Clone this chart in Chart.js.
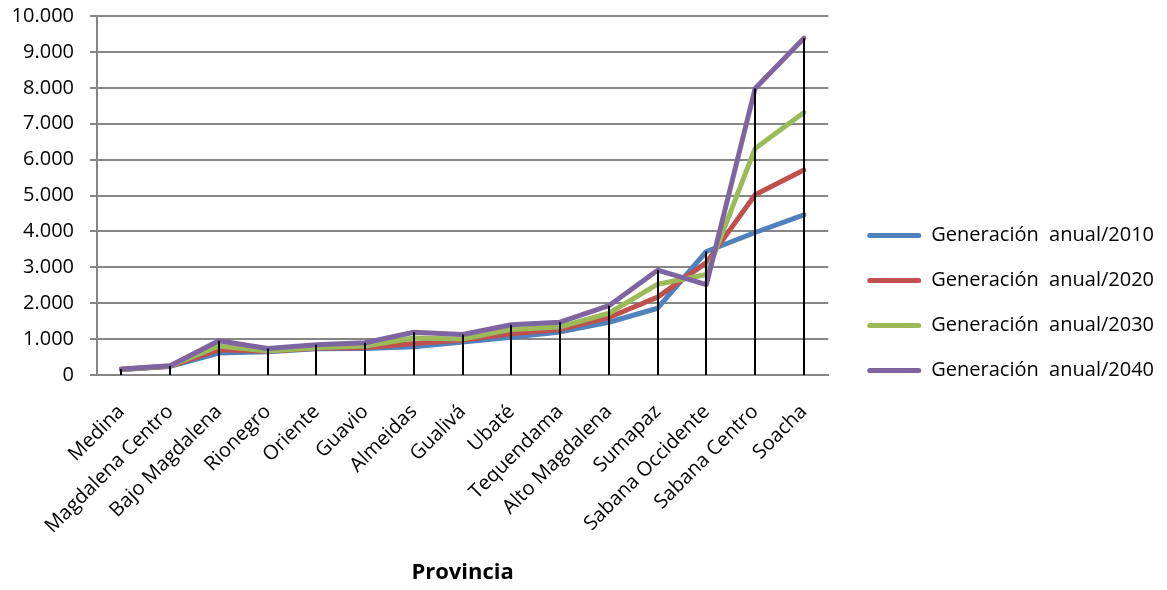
<!DOCTYPE html>
<html>
<head>
    <meta charset="utf-8">
    <title>Generación anual por provincia</title>
    <style type="text/css">
        body {
            margin: 0;
            background: #fff;
        }

        #chart-container {
            width: 1167px;
            height: 590px;
        }
    </style>
    <script src="https://cdn.jsdelivr.net/npm/chart.js@4.4.0/dist/chart.umd.min.js"></script>
</head>
<body>
    <div id="chart-container">
        <canvas id="graphCanvas" width="1167" height="590"></canvas>
    </div>

    <script>
        // provincias (eje X)
        var provincias = ['Medina', 'Magdalena Centro', 'Bajo Magdalena', 'Rionegro', 'Oriente', 'Guavio',
            'Almeidas', 'Gualivá', 'Ubaté', 'Tequendama', 'Alto Magdalena', 'Sumapaz',
            'Sabana Occidente', 'Sabana Centro', 'Soacha'];

        // generacion anual por año
        var gen2010 = [150, 240, 610, 650, 730, 740, 790, 920, 1050, 1200, 1470, 1860, 3440, 3970, 4460];
        var gen2020 = [155, 245, 700, 660, 745, 760, 880, 975, 1150, 1270, 1600, 2170, 3130, 5020, 5710];
        var gen2030 = [160, 250, 810, 670, 760, 810, 1030, 1000, 1270, 1340, 1720, 2530, 2800, 6310, 7310];
        var gen2040 = [170, 260, 955, 740, 845, 900, 1190, 1130, 1400, 1470, 1930, 2920, 2520, 7980, 9380];

        var series = [
            { label: 'Generación  anual/2010', data: gen2010, color: '#4F81BD' },
            { label: 'Generación  anual/2020', data: gen2020, color: '#C0504D' },
            { label: 'Generación  anual/2030', data: gen2030, color: '#9BBB59' },
            { label: 'Generación  anual/2040', data: gen2040, color: '#8064A2' }
        ];

        var yMax = 10000;
        var yStep = 1000;

        function formatMiles(v) {
            return String(v).replace(/\B(?=(\d{3})+(?!\d))/g, '.');
        }

        // lineas de caida desde el valor mayor hasta el eje
        var dropLines = {
            id: 'dropLines',
            afterDatasetsDraw: function (chart) {
                var ctx = chart.ctx;
                var x = chart.scales.x;
                var y = chart.scales.y;
                ctx.save();
                ctx.strokeStyle = '#000';
                ctx.lineWidth = 2;
                for (var i = 0; i < provincias.length; i++) {
                    var top = Math.max(gen2010[i], gen2020[i], gen2030[i], gen2040[i]);
                    var px = Math.round(x.getPixelForValue(i));
                    ctx.beginPath();
                    ctx.moveTo(px, y.getPixelForValue(top));
                    ctx.lineTo(px, y.getPixelForValue(0));
                    ctx.stroke();
                }
                ctx.restore();
            }
        };

        var fontFamily = '"Open Sans", sans-serif';

        var chartdata = {
            labels: provincias,
            datasets: series.map(function (s, i) {
                return {
                    label: s.label,
                    data: s.data,
                    borderColor: s.color,
                    backgroundColor: s.color,
                    borderWidth: 5,
                    pointRadius: 0,
                    tension: 0,
                    borderJoinStyle: 'round',
                    borderCapStyle: 'round',
                    order: series.length - i
                };
            })
        };

        var graphTarget = document.getElementById('graphCanvas');

        var lineGraph = new Chart(graphTarget, {
            type: 'line',
            data: chartdata,
            plugins: [dropLines],
            options: {
                responsive: false,
                devicePixelRatio: 1,
                animation: false,
                layout: {
                    padding: { top: 16, left: 0, right: 3, bottom: 0 }
                },
                plugins: {
                    tooltip: { enabled: false },
                    legend: {
                        position: 'right',
                        maxWidth: 400,
                        labels: {
                            boxWidth: 54,
                            boxHeight: 5,
                            padding: 25,
                            color: '#000',
                            useBorderRadius: true,
                            borderRadius: 2.5,
                            font: { family: fontFamily, size: 20 },
                            sort: function (a, b) { return a.datasetIndex - b.datasetIndex; },
                            generateLabels: function (chart) {
                                var items = Chart.defaults.plugins.legend.labels.generateLabels(chart);
                                items.forEach(function (it) { it.lineWidth = 0; });
                                return items;
                            }
                        }
                    }
                },
                scales: {
                    x: {
                        offset: true,
                        grid: { display: false, drawTicks: false },
                        border: { display: true, color: '#868686', width: 2 },
                        ticks: {
                            color: '#000',
                            maxRotation: 45,
                            minRotation: 45,
                            autoSkip: false,
                            padding: 25,
                            font: { family: fontFamily, size: 20 }
                        },
                        title: {
                            display: true,
                            text: 'Provincia',
                            color: '#000',
                            font: { family: fontFamily, size: 22, weight: 'bold' },
                            padding: { top: 4, bottom: 4 }
                        },
                        afterFit: function (s) { s.height = 215; }
                    },
                    y: {
                        min: 0,
                        max: yMax,
                        grid: { color: '#868686', lineWidth: 2, tickLength: 7 },
                        border: { display: true, color: '#868686', width: 2 },
                        ticks: {
                            stepSize: yStep,
                            color: '#000',
                            padding: 16,
                            font: { family: fontFamily, size: 20 },
                            callback: function (v) { return formatMiles(v); }
                        },
                        afterFit: function (s) {
                            s.width = 97;
                            s.paddingTop = 0;
                        }
                    },
                    // separacion entre el area del grafico y la leyenda
                    gap: {
                        position: 'right',
                        display: true,
                        grid: { display: false, drawTicks: false },
                        border: { display: false },
                        ticks: { display: false },
                        afterFit: function (s) { s.width = 14; }
                    }
                }
            }
        });
    </script>
</body>
</html>
